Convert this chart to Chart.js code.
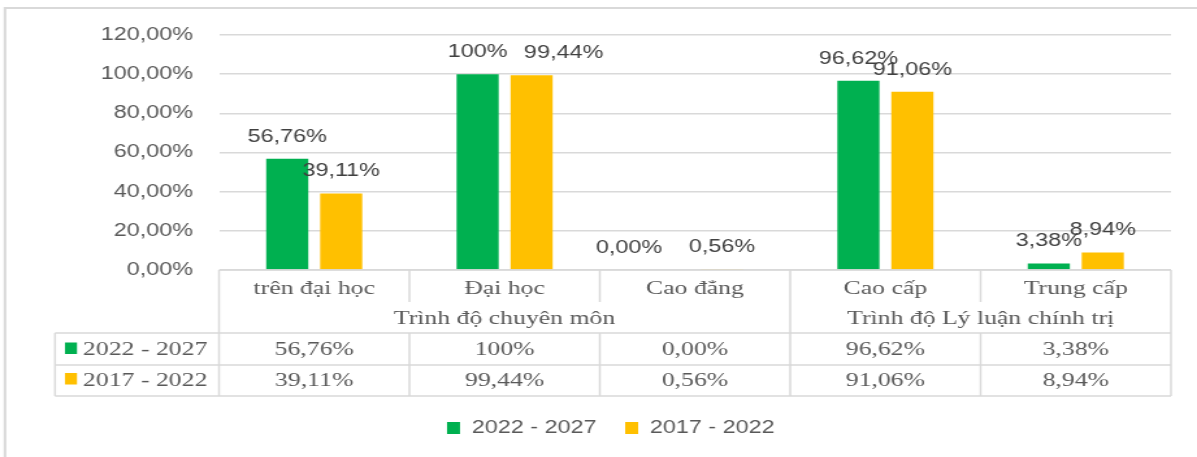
<!DOCTYPE html>
<html><head><meta charset="utf-8">
<script src="https://cdn.jsdelivr.net/npm/chart.js@4/dist/chart.umd.min.js"></script>
<style>
html,body{margin:0;padding:0;background:#fff;overflow:hidden}
canvas{display:block}
</style></head><body>
<canvas id="c" width="921" height="457" style="width:1197px;height:457px"></canvas>
<script>
// ---- data ----
const categories = ['trên đại học', 'Đại học', 'Cao đẳng', 'Cao cấp', 'Trung cấp'];
const groups = ['Trình độ chuyên môn', 'Trình độ Lý luận chính trị'];
const groupSpans = [3, 2];
const seriesNames = ['2022 - 2027', '2017 - 2022'];
const series2022_2027 = [56.76, 100, 0, 96.62, 3.38];
const series2017_2022 = [39.11, 99.44, 0.56, 91.06, 8.94];
const yTicks = [0, 20, 40, 60, 80, 100, 120];
const seriesColors = ['#00B050', '#FFC000'];

// ---- rendering ----
const SX = 1197 / 921;          // horizontal stretch of the picture
const TX = 1.07;                // extra stretch for table text
const GRID = '#d9d9d9';
const TEXT = '#595959';
const fmtPct = v => v.toFixed(2).replace('.', ',') + '%';
const fmtLabel = v => (v === 100 ? '100%' : fmtPct(v));
// label collision nudges (dataset-index : displayed px)
const labelNudge = { '1-1': 32, '0-2': -39 };

Chart.defaults.font.family = '"Liberation Sans", Arial, sans-serif';

function stretchedText(ctx, s, x, y, align) {
  ctx.save();
  ctx.translate(x, y);
  ctx.scale(TX, 1);
  ctx.textAlign = align;
  ctx.fillText(s, 0, 0);
  ctx.restore();
}

const framePlugin = {
  id: 'frame',
  beforeDraw(chart) {
    const ctx = chart.ctx;
    ctx.save();
    ctx.strokeStyle = GRID;
    ctx.lineWidth = 2;
    ctx.strokeRect(5 / SX, 8, 2000, 1000);
    ctx.restore();
  }
};

const legendShift = {
  id: 'legendShift',
  afterLayout(chart) {
    const lg = chart.legend;
    if (!lg || !lg.lineWidths) return;
    const pad = lg.options.labels.padding;
    const actual = (lg.left + pad + lg.right - lg.lineWidths[0]) / 2;
    const desired = 447 / SX;
    const d = desired - actual;
    lg.left += d; lg.right += d;
  }
};

const dataLabels = {
  id: 'dataLabels',
  afterDatasetsDraw(chart) {
    const ctx = chart.ctx;
    ctx.save();
    ctx.font = '18px "Liberation Sans", Arial, sans-serif';
    ctx.fillStyle = '#404040';
    ctx.textAlign = 'center';
    ctx.textBaseline = 'middle';
    chart.data.datasets.forEach((ds, di) => {
      chart.getDatasetMeta(di).data.forEach((el, i) => {
        const dx = (labelNudge[di + '-' + i] || 0) / SX;
        ctx.fillText(fmtLabel(ds.data[i]), el.x + dx, el.y - 22);
      });
    });
    ctx.restore();
  }
};

const dataTable = {
  id: 'dataTable',
  afterDraw(chart) {
    const ctx = chart.ctx;
    const ca = chart.chartArea;
    const xs = chart.scales.x;
    const n = categories.length;
    const centers = categories.map((_, i) => xs.getPixelForValue(i));
    const bounds = [ca.left];
    for (let i = 1; i < n; i++) bounds.push((centers[i - 1] + centers[i]) / 2);
    bounds.push(ca.right);
    const groupIdx = [0];
    groupSpans.forEach(s => groupIdx.push(groupIdx[groupIdx.length - 1] + s));
    const leftCol = 55 / SX;
    const y0 = ca.bottom, yCat = y0 + 32, yHead = y0 + 63, yR1 = y0 + 95, yR2 = y0 + 126;

    ctx.save();
    ctx.strokeStyle = GRID;
    ctx.lineWidth = 1.5;
    const line = (x1, y1, x2, y2) => { ctx.beginPath(); ctx.moveTo(x1, y1); ctx.lineTo(x2, y2); ctx.stroke(); };
    line(ca.left, y0, ca.right, y0);
    [yHead, yR1, yR2].forEach(y => line(leftCol, y, ca.right, y));
    line(leftCol, yHead, leftCol, yR2);
    bounds.forEach((x, k) => {
      if (groupIdx.includes(k)) {
        line(x, y0, x, yR2);
      } else {
        line(x, y0, x, yCat);
        line(x, yHead, x, yR2);
      }
    });

    ctx.fillStyle = TEXT;
    ctx.font = '18.5px "Liberation Serif", "Times New Roman", serif';
    ctx.textBaseline = 'alphabetic';
    categories.forEach((c, i) => stretchedText(ctx, c, centers[i], y0 + 24, 'center'));
    groups.forEach((g, gi) => {
      const cx = (bounds[groupIdx[gi]] + bounds[groupIdx[gi + 1]]) / 2;
      stretchedText(ctx, g, cx, y0 + 54, 'center');
    });
    const rows = [series2022_2027, series2017_2022];
    const baselines = [y0 + 85, y0 + 115.5];
    rows.forEach((vals, r) => {
      vals.forEach((v, i) => stretchedText(ctx, fmtLabel(v), centers[i], baselines[r], 'center'));
      ctx.fillStyle = seriesColors[r];
      ctx.fillRect(65 / SX, baselines[r] - 12.5, 12 / SX, 11.5);
      ctx.fillStyle = TEXT;
      stretchedText(ctx, seriesNames[r], 83 / SX, baselines[r], 'left');
    });
    ctx.restore();
  }
};

new Chart(document.getElementById('c'), {
  type: 'bar',
  data: {
    labels: categories,
    datasets: [
      { label: seriesNames[0], data: series2022_2027, backgroundColor: seriesColors[0], borderWidth: 0,
        categoryPercentage: 0.567, barPercentage: 0.78 },
      { label: seriesNames[1], data: series2017_2022, backgroundColor: seriesColors[1], borderWidth: 0,
        categoryPercentage: 0.567, barPercentage: 0.78 }
    ]
  },
  options: {
    responsive: false,
    animation: false,
    devicePixelRatio: 1,
    layout: { padding: { top: 35, right: 921 - 1171 / SX, bottom: 10, left: 0 } },
    plugins: {
      legend: {
        position: 'bottom',
        labels: { boxWidth: 10, boxHeight: 12, padding: 22, color: TEXT,
                  font: { family: '"Liberation Sans", Arial, sans-serif', size: 18 } }
      },
      tooltip: { enabled: false }
    },
    scales: {
      x: {
        grid: { display: false },
        border: { display: false },
        ticks: { display: false },
        afterFit(s) { s.height = 127; }
      },
      y: {
        min: 0, max: 120,
        afterBuildTicks(s) { s.ticks = yTicks.map(v => ({ value: v })); },
        ticks: { padding: 20, color: TEXT, font: { size: 18 }, callback: v => fmtPct(v) },
        grid: { color: GRID, lineWidth: 1.5, drawTicks: false },
        border: { display: false },
        afterFit(s) { s.width = 219 / SX; }
      }
    }
  },
  plugins: [framePlugin, legendShift, dataLabels, dataTable]
});
</script>
</body></html>
